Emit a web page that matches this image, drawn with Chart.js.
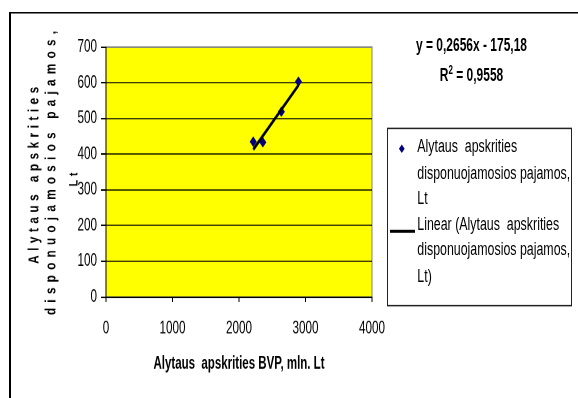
<!DOCTYPE html>
<html>
<head>
<meta charset="utf-8">
<script src="https://cdn.jsdelivr.net/npm/chart.js@4.4.1/dist/chart.umd.min.js"></script>
<style>
  html, body { margin: 0; padding: 0; background: #fff; overflow: hidden; }
  body { width: 578px; height: 398px; position: relative; font-family: 'Liberation Sans', Arial, sans-serif; color: #000; }
  /* the original picture is stretched vertically, so everything is drawn at 578x265 and scaled */
  #stage { position: absolute; left: 0; top: 0; width: 578px; height: 265px; transform-origin: 0 0; transform: scaleY(1.50189); }
  #frame { position: absolute; left: 9px; top: 8px; width: 640px; height: 400px; border-left: 2px solid #000; border-top: 1px solid #000; }
  #wrap { position: absolute; left: 0; top: 0; width: 578px; height: 265px; }
  .eq { position: absolute; left: 371.5px; width: 200px; text-align: center; font-weight: bold; font-size: 12px; line-height: 14px; white-space: pre; }
  .eq sup { font-size: 8px; vertical-align: baseline; position: relative; top: -5px; }
  #legend { position: absolute; left: 386.7px; top: 85.4px; width: 185.3px; height: 119px; box-sizing: border-box; border: 1px solid #222; background: #fff; }
  .ltext { position: absolute; left: 417.3px; font-size: 12.4px; line-height: 17.3px; white-space: pre; }
  .diamond { position: absolute; left: 399.5px; top: 96.9px; width: 3.6px; height: 3.6px; background: #000080; transform: rotate(45deg); }
  .lsym { position: absolute; left: 390px; top: 153.35px; width: 25px; height: 1.7px; background: #000; }
</style>
</head>
<body>
<div id="stage">
  <div id="frame"></div>
  <div id="wrap"><canvas id="c"></canvas></div>
  <div class="eq" id="eq1" style="top:22.5px"></div>
  <div class="eq" id="eq2" style="top:43px"></div>
  <div id="legend"></div>
  <div class="diamond"></div>
  <div class="lsym"></div>
  <div class="ltext" id="lt1" style="top:89.25px"></div>
  <div class="ltext" id="lt2" style="top:141.15px"></div>
</div>
<script>
// duomenys (nuskaityti nuo paveikslo)
const bvp = [2214, 2359, 2637, 2894];        // Alytaus apskrities BVP, mln. Lt
const pajamos = [435, 433, 519, 603];        // disponuojamosios pajamos, Lt
const trendX = [2214, 2894];                 // tiesinio trendo galai
const trendY = [413, 593];
const xTicks = [0, 1000, 2000, 3000, 4000];
const yTicks = [0, 100, 200, 300, 400, 500, 600, 700];

const seriesName = 'Alytaus  apskrities disponuojamosios pajamos, Lt';
const xTitle = 'Alytaus  apskrities BVP, mln. Lt';
const yTitleLines = ['Alytaus apskrities', 'disponuojamosios pajamos,', 'Lt'];
const legendLines1 = ['Alytaus  apskrities', 'disponuojamosios pajamos,', 'Lt'];
const legendLines2 = ['Linear (Alytaus  apskrities', 'disponuojamosios pajamos,', 'Lt)'];
const equation = 'y = 0,2656x - 175,18';
const rSquared = '0,9558';

const S = 398 / 265; // vertikalus ištempimas

document.getElementById('eq1').textContent = equation;
document.getElementById('eq2').innerHTML = 'R<sup>2</sup> = ' + rSquared;
document.getElementById('lt1').textContent = legendLines1.join('\n');
document.getElementById('lt2').textContent = legendLines2.join('\n');

// geltonas braižymo plotas su pilku rėmeliu
const plotBg = {
  id: 'plotBg',
  beforeDraw(chart) {
    const { ctx, chartArea: a } = chart;
    ctx.save();
    ctx.fillStyle = '#FFFF00';
    ctx.fillRect(a.left, a.top, a.right - a.left, a.bottom - a.top);
    ctx.strokeStyle = '#808080';
    ctx.lineWidth = 1;
    ctx.strokeRect(a.left, a.top, a.right - a.left, a.bottom - a.top);
    ctx.restore();
  }
};

// vertikalus ašies pavadinimas su išretintomis raidėmis
const yTitleLayout = [
  { x: 38.5, cy: 175.3, len: 177, size: 15, squeeze: 0.78 },
  { x: 55.5, cy: 173, len: 284, size: 15, squeeze: 0.78 },
  { x: 77.5, cy: 179.5, len: 14, size: 12, squeeze: 0.9 }
];
const yTitlePlugin = {
  id: 'yTitle',
  afterDraw(chart) {
    const ctx = chart.ctx;
    ctx.save();
    ctx.fillStyle = '#000';
    ctx.textBaseline = 'alphabetic';
    ctx.textAlign = 'left';
    yTitleLayout.forEach((l, i) => {
      ctx.font = 'bold ' + l.size + 'px "Liberation Sans", Arial, sans-serif';
      const chars = Array.from(yTitleLines[i]);
      const widths = chars.map(ch => ctx.measureText(ch).width * l.squeeze);
      const sum = widths.reduce((a, b) => a + b, 0);
      const gap = (l.len - sum) / (chars.length - 1);
      ctx.save();
      ctx.translate(l.x, l.cy / S);
      ctx.scale(1, 1 / S);
      ctx.rotate(-Math.PI / 2);
      let pos = -l.len / 2;
      chars.forEach((ch, k) => {
        ctx.save();
        ctx.translate(pos, 0);
        ctx.scale(l.squeeze, 1);
        ctx.fillText(ch, 0, 0);
        ctx.restore();
        pos += widths[k] + gap;
      });
      ctx.restore();
    });
    ctx.restore();
  }
};

Chart.defaults.font.family = "'Liberation Sans', Arial, sans-serif";
Chart.defaults.color = '#000';

new Chart(document.getElementById('c'), {
  type: 'scatter',
  data: {
    datasets: [
      {
        label: seriesName,
        data: bvp.map((x, i) => ({ x: x, y: pajamos[i] })),
        pointStyle: 'rectRot',
        pointRadius: 2.8,
        pointBorderWidth: 1,
        backgroundColor: '#000080',
        borderColor: '#000080',
        order: 2
      },
      {
        label: 'Linear (' + seriesName + ')',
        data: trendX.map((x, i) => ({ x: x, y: trendY[i] })),
        showLine: true,
        borderColor: '#000',
        borderWidth: 2.2,
        pointRadius: 0,
        order: 1
      }
    ]
  },
  options: {
    responsive: true,
    maintainAspectRatio: false,
    animation: false,
    devicePixelRatio: 2,
    events: [],
    layout: { padding: { top: 31.3, right: 206, left: 0, bottom: 0 } },
    plugins: { legend: { display: false }, tooltip: { enabled: false } },
    scales: {
      x: {
        type: 'linear',
        position: 'bottom',
        min: xTicks[0],
        max: xTicks[xTicks.length - 1],
        afterBuildTicks: s => { s.ticks = xTicks.map(v => ({ value: v })); },
        ticks: { padding: 10.9, color: '#000', font: { size: 11.7 }, callback: v => String(v), maxRotation: 0 },
        grid: { drawOnChartArea: false, drawTicks: true, tickLength: 3.3, color: '#000' },
        border: { color: '#000', width: 1 },
        title: { display: true, text: xTitle, color: '#000', font: { size: 11.5, weight: 'bold' }, padding: { top: 0, bottom: 15.6 } },
        afterFit: s => { s.height = 67.25; }
      },
      y: {
        min: yTicks[0],
        max: yTicks[yTicks.length - 1],
        afterBuildTicks: s => { s.ticks = yTicks.map(v => ({ value: v })); },
        ticks: { padding: 4, color: '#000', font: { size: 11.7 }, callback: v => String(v) },
        grid: {
          color: c => (c.tick && c.tick.value === 700 ? '#808080' : '#000'),
          lineWidth: 0.75,
          tickLength: 5,
          tickColor: '#000',
          tickWidth: 1
        },
        border: { color: '#000', width: 1 },
        afterFit: s => { s.width = 106; }
      }
    }
  },
  plugins: [plotBg, yTitlePlugin]
});
</script>
</body>
</html>
